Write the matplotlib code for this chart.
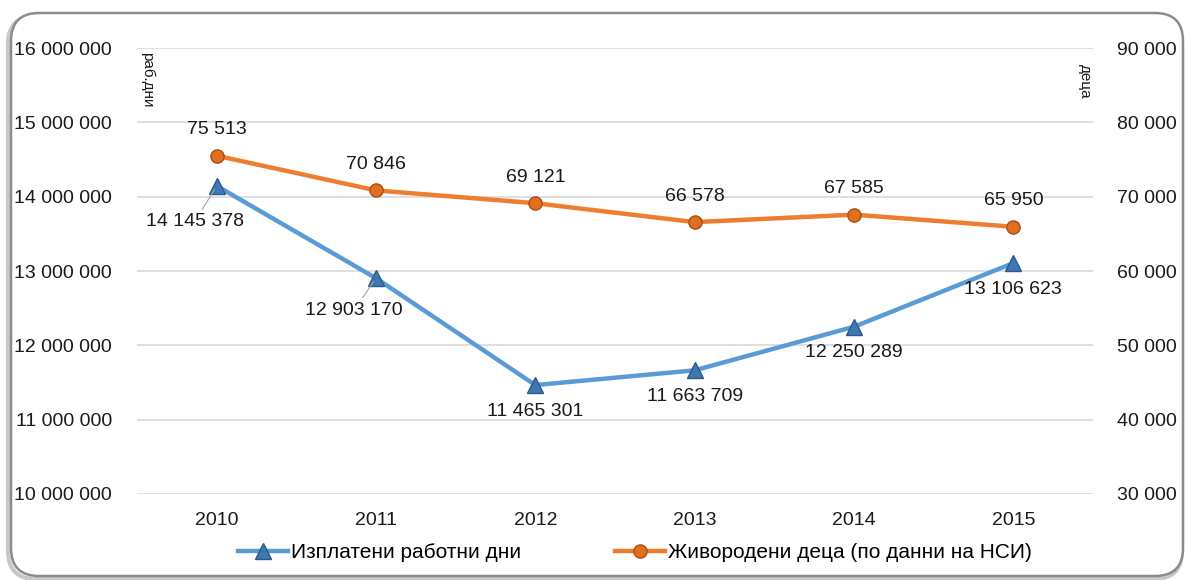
import numpy as np
import matplotlib.pyplot as plt
from matplotlib.patches import FancyBboxPatch
from matplotlib.transforms import IdentityTransform
from matplotlib.ticker import FuncFormatter

plt.rcParams['font.family'] = ['Liberation Sans', 'DejaVu Sans']

# Data
years = ['2010', '2011', '2012', '2013', '2014', '2015']
paid_days = [14145378, 12903170, 11465301, 11663709, 12250289, 13106623]
births = [75513, 70846, 69121, 66578, 67585, 65950]

# label offsets (pixels) for the paid-days series
day_offsets = [(-22, -36), (-22, -32), (0, -26), (0, -26), (0, -26), (0, -26)]

BLUE = '#5B9BD5'
ORANGE = '#ED7D31'


def space_thousands(v, pos=None):
    return '{:,.0f}'.format(v).replace(',', ' ')


fig = plt.figure(figsize=(11.86, 5.8), dpi=100)
ax = fig.add_axes([0.1155, 0.1483, 0.8061, 0.7689])
ax2 = ax.twinx()

x = np.arange(len(years))

l1, = ax.plot(x, paid_days, color=BLUE, linewidth=3.2, marker='^', markersize=11,
              markerfacecolor='#3E78B2', markeredgecolor='#2C5A88', zorder=3,
              label='Изплатени работни дни')
l2, = ax2.plot(x, births, color=ORANGE, linewidth=3.2, marker='o', markersize=9.5,
               markerfacecolor='#E07020', markeredgecolor='#A94E12', zorder=3,
               label='Живородени деца (по данни на НСИ)')

ax.set_ylim(10000000, 16000000)
ax.set_yticks(np.arange(10000000, 16000001, 1000000))
ax2.set_ylim(30000, 90000)
ax2.set_yticks(np.arange(30000, 90001, 10000))
ax.set_xlim(-0.5, len(years) - 0.5)
ax.set_xticks(x)
ax.set_xticklabels(years)

ax.yaxis.set_major_formatter(FuncFormatter(space_thousands))
ax2.yaxis.set_major_formatter(FuncFormatter(space_thousands))

ax.grid(axis='y', color='#D9D9D9', linewidth=1.2)
ax.set_axisbelow(True)
for a in (ax, ax2):
    for s in a.spines.values():
        s.set_visible(False)
    a.tick_params(length=0, labelsize=14, colors='#1a1a1a')
ax.tick_params(axis='y', pad=18)
ax2.tick_params(axis='y', pad=17)
ax.tick_params(axis='x', pad=13)

# axis titles inside the plot
ax.text(0.003, 0.99, 'раб.дни', transform=ax.transAxes, rotation=270,
        ha='left', va='top', fontsize=11, color='#1a1a1a')
ax2.text(0.999, 0.965, 'деца', transform=ax2.transAxes, rotation=270,
         ha='right', va='top', fontsize=11, color='#1a1a1a')

# data labels
for xi, v in zip(x, births):
    ax2.annotate(space_thousands(v), (xi, v), xytext=(0, 26),
                 textcoords='offset pixels', ha='center', va='center',
                 fontsize=14, color='#1a1a1a')
for i, (xi, v) in enumerate(zip(x, paid_days)):
    dx, dy = day_offsets[i]
    props = None
    if i < 2:
        props = dict(arrowstyle='-', color='#A6A6A6', linewidth=0.8,
                     shrinkA=1, shrinkB=3)
    ax.annotate(space_thousands(v), (xi, v), xytext=(dx, dy),
                textcoords='offset pixels', ha='center', va='center',
                fontsize=14, color='#1a1a1a', arrowprops=props)

fig.legend(handles=[l1, l2], loc='center', bbox_to_anchor=(0.535, 0.047),
           ncol=2, frameon=False, fontsize=15, handlelength=2.4,
           columnspacing=4.5, handletextpad=0.15)

# rounded frame with a soft shadow towards bottom-left
shadow = FancyBboxPatch((8, 1), 1174, 563, boxstyle='round,pad=0,rounding_size=28',
                        transform=IdentityTransform(), facecolor='none',
                        edgecolor='#C8C8C8', linewidth=3, zorder=-2)
frame = FancyBboxPatch((11, 4), 1172, 563, boxstyle='round,pad=0,rounding_size=28',
                       transform=IdentityTransform(), facecolor='white',
                       edgecolor='#8C8C8C', linewidth=1.8, zorder=-1)
fig.patches.extend([shadow, frame])

fig.savefig('out.png', dpi=100)
